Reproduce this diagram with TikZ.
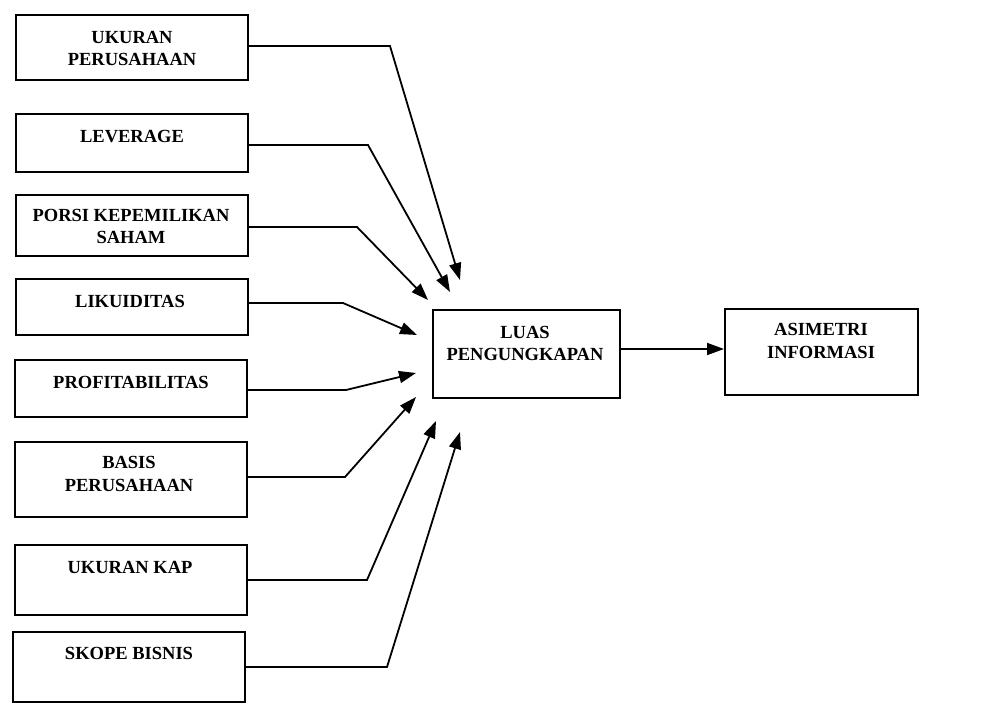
\documentclass[tikz,border=0pt]{standalone}
\usepackage{fontspec}
\setmainfont{Liberation Serif}
\usetikzlibrary{arrows.meta}
\begin{document}
\begin{tikzpicture}[x=1pt,y=-1pt,
  box/.style={draw, line width=2pt, minimum width=232pt, inner sep=0pt, rectangle},
  lbl/.style={align=center, font=\bfseries\fontsize{18.5}{22.5}\selectfont, inner sep=0pt},
  conn/.style={line width=1.8pt, -{Triangle[length=17pt,width=12pt]}},
]
\fill[white] (0,0) rectangle (981,708);
\useasboundingbox (0,0) rectangle (981,708);
% left boxes
\node[box, minimum height=65pt] (b1) at (132,47.5) {};
\node[box, minimum height=58pt] (b2) at (132,143) {};
\node[box, minimum height=61pt] (b3) at (132,225.5) {};
\node[box, minimum height=56pt] (b4) at (132,307) {};
\node[box, minimum height=57pt] (b5) at (131,388.5) {};
\node[box, minimum height=75pt] (b6) at (131,479.5) {};
\node[box, minimum height=70pt] (b7) at (131,580) {};
\node[box, minimum height=70pt] (b8) at (129,667) {};
% labels
\node[lbl] (t1) at (132,48.5) {UKURAN\\PERUSAHAAN};
\node[lbl] (t2) at (132,137) {LEVERAGE};
\node[lbl] (t3) at (131,226.5) {PORSI KEPEMILIKAN\\SAHAM};
\node[lbl] (t4) at (130,301) {LIKUIDITAS};
\node[lbl] (t5) at (131,382) {PROFITABILITAS};
\node[lbl] (t6) at (129,474) {BASIS\\PERUSAHAAN};
\node[lbl] (t7) at (130,567) {UKURAN KAP};
\node[lbl] (t8) at (129,653) {SKOPE BISNIS};
% center and right boxes
\node[box, minimum width=187pt, minimum height=88pt] (luas) at (526.5,354) {};
\node[lbl] (tl) at (525,343.5) {LUAS\\PENGUNGKAPAN};
\node[box, minimum width=193pt, minimum height=86pt] (asim) at (821.5,352) {};
\node[lbl] (ta) at (821,341) {ASIMETRI\\INFORMASI};
% bend points and arrow tips
\coordinate (k1) at (390,46);  \coordinate (e1) at (460,280);
\coordinate (k2) at (368,145); \coordinate (e2) at (450,292);
\coordinate (k3) at (357,227); \coordinate (e3) at (428,300);
\coordinate (k4) at (343,303); \coordinate (e4) at (417,335);
\coordinate (k5) at (346,390); \coordinate (e5) at (416,373);
\coordinate (k6) at (345,477); \coordinate (e6) at (416,397);
\coordinate (k7) at (367,580); \coordinate (e7) at (436,421);
\coordinate (k8) at (387,667); \coordinate (e8) at (460,432);
\draw[conn] (b1.east |- k1) -- (k1) -- (e1);
\draw[conn] (b2.east |- k2) -- (k2) -- (e2);
\draw[conn] (b3.east |- k3) -- (k3) -- (e3);
\draw[conn] (b4.east |- k4) -- (k4) -- (e4);
\draw[conn] (b5.east |- k5) -- (k5) -- (e5);
\draw[conn] (b6.east |- k6) -- (k6) -- (e6);
\draw[conn] (b7.east |- k7) -- (k7) -- (e7);
\draw[conn] (b8.east |- k8) -- (k8) -- (e8);
\draw[conn] ([yshift=5pt]luas.east) -- ([yshift=5pt]luas.east -| asim.west);
\end{tikzpicture}
\end{document}
